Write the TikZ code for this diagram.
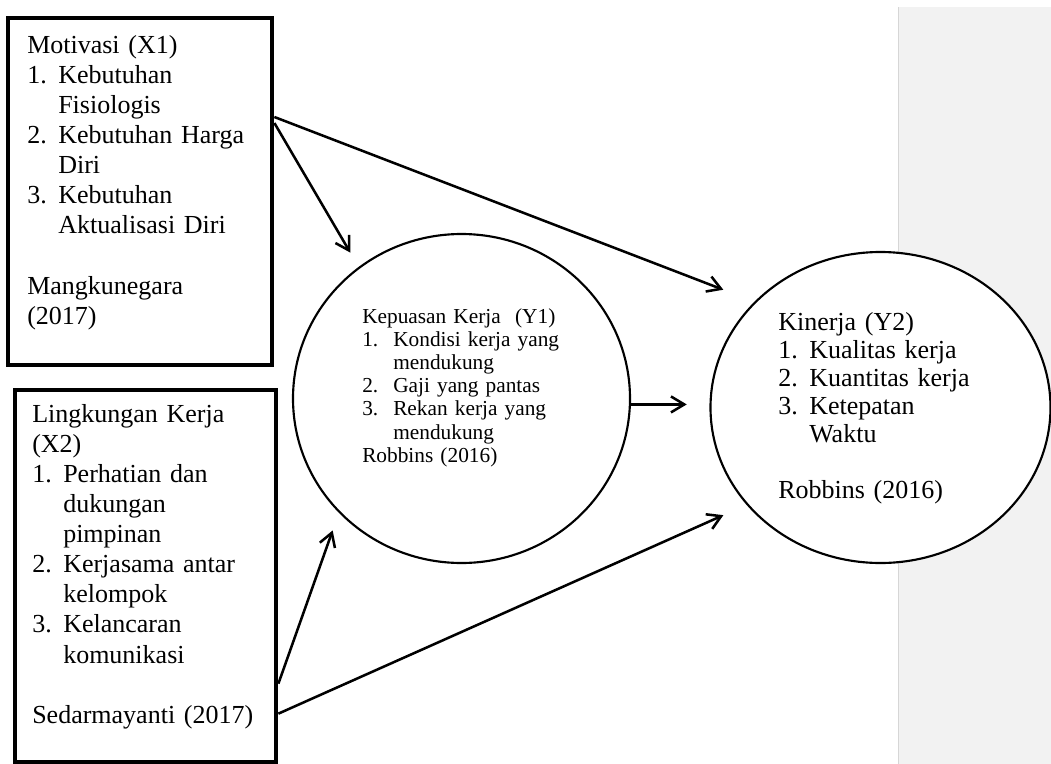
\documentclass[tikz,border=0pt]{standalone}
\usepackage{fontspec}
\setmainfont{Liberation Serif}
\usetikzlibrary{arrows.meta,shapes.geometric}
\definecolor{latar}{RGB}{242,242,242}
\definecolor{garis}{RGB}{214,214,214}
\newcommand{\besar}{\fontsize{19.5pt}{22.6pt}\selectfont}
\newcommand{\sedang}{\fontsize{19.5pt}{21pt}\selectfont}
\newcommand{\kecil}{\fontsize{16pt}{17.4pt}\selectfont}
\newcommand{\nomor}[1]{\makebox[23.25pt][l]{#1}}
\newcommand{\terus}{\hspace*{23.25pt}}

\begin{document}
\begin{tikzpicture}[x=0.75pt,y=-0.75pt,
    kotak/.style={draw, line width=3.6pt, inner sep=0pt},
    bulat/.style={ellipse, draw, line width=1.6pt, fill=white, inner sep=0pt},
    teks/.style={anchor=base west, inner sep=0pt, align=left},
    panah/.style={-{Straight Barb[length=10pt,width=12pt]}, line width=1.9pt}]
                        \useasboundingbox (0,0) rectangle (1051,764);
                        \fill[latar] (898,7) rectangle (1051,764);
                        \draw[garis] (898,7) -- (898,764);

                        \node[kotak, minimum width=198pt, minimum height=260.25pt] (mot) at (140,191.5) {};
                        \node[kotak, minimum width=195.75pt, minimum height=279pt] (lk) at (145.5,576) {};
                        \node[bulat, minimum width=252.75pt, minimum height=246.75pt] (kp) at (461.5,398.5) {};
                        \node[bulat, minimum width=255pt, minimum height=233.25pt] (kin) at (880.5,407.5) {};

                        \node[teks, font=\besar, text width=185pt] (motteks) at (27,53) {Motivasi (X1)\\
                            \nomor{1.}Kebutuhan\\ \terus Fisiologis\\
                            \nomor{2.}Kebutuhan Harga\\ \terus Diri\\
                            \nomor{3.}Kebutuhan\\ \terus Aktualisasi Diri\\[22.6pt]
                            Mangkunegara\\ (2017)};
                        \node[teks, font=\besar, text width=185pt] (lkteks) at (32,422) {Lingkungan Kerja\\ (X2)\\
                            \nomor{1.}Perhatian dan\\ \terus dukungan\\ \terus pimpinan\\
                            \nomor{2.}Kerjasama antar\\ \terus kelompok\\
                            \nomor{3.}Kelancaran\\ \terus komunikasi\\[22.6pt]
                            Sedarmayanti (2017)};
                        \node[teks, font=\kecil, text width=200pt] (kpteks) at (362,323) {Kepuasan Kerja\ \ (Y1)\\
                            \nomor{1.}Kondisi kerja yang\\ \terus mendukung\\
                            \nomor{2.}Gaji yang pantas\\
                            \nomor{3.}Rekan kerja yang\\ \terus mendukung\\
                            Robbins (2016)};
                        \node[teks, font=\sedang, text width=190pt] (kinteks) at (778,330) {Kinerja (Y2)\\
                            \nomor{1.}Kualitas kerja\\
                            \nomor{2.}Kuantitas kerja\\
                            \nomor{3.}Ketepatan\\ \terus Waktu\\[21pt]
                            Robbins (2016)};

                        \draw[panah, shorten >=12.4pt] (mot.27) -- (kp.128);
                        \draw[panah, shorten >=25pt] (mot.29) -- (kin.140);
                        \draw[panah, shorten >=17pt] (kp.-2) -- (kp.-2 -| kin.west);
                        \draw[panah, shorten >=14pt] (lk.-39) -- (kp.223);
                        \draw[panah, shorten >=19pt] (lk.-46) -- (kin.216);
                    \end{tikzpicture}
\end{document}
